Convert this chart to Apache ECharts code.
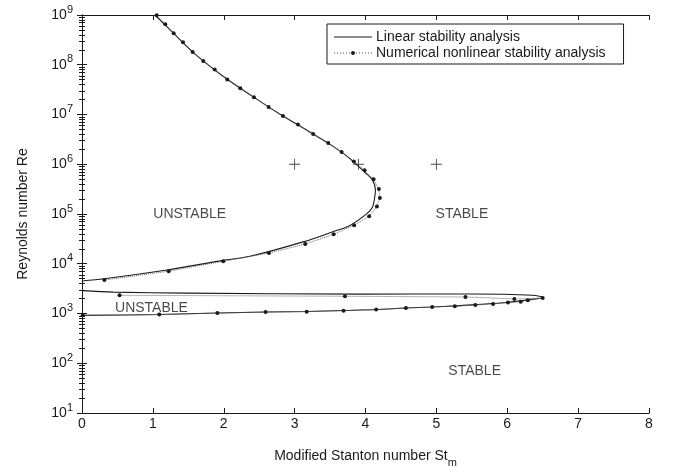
<!DOCTYPE html>
<html>
<head>
<meta charset="utf-8">
<script src="https://cdn.jsdelivr.net/npm/echarts@6/dist/echarts.min.js"></script>
<style>
  html, body { margin: 0; padding: 0; background: #fff; }
  #chart { width: 675px; height: 475px; }
</style>
</head>
<body>
<div id="chart"></div>
<script>
// linear stability boundary, upper branch (St_m, Re)
var linUpperX = [1.03, 1.3, 1.6, 2.0, 2.4, 2.8, 3.2, 3.5, 3.75, 3.99, 4.10, 4.14, 4.13, 4.10, 4.02, 3.78, 3.54, 3.12, 2.37, 1.99, 1.22, 0.31, 0];
var linUpperRe = [1e9, 4.17e8, 1.62e8, 5.75e7, 2.34e7, 1.0e7, 4.57e6, 2.51e6, 1.41e6, 6.9e5, 4.8e5, 3.0e5, 2.19e5, 1.38e5, 1.02e5, 5.9e4, 4.4e4, 2.75e4, 1.41e4, 1.17e4, 7.6e3, 5.0e3, 4.5e3];
// linear stability boundary, lower closed loop
var linLoopX = [0, 0.44, 1.48, 3.92, 5.5, 6.36, 6.51, 6.32, 5.99, 5.54, 5.26, 4.93, 4.56, 4.16, 3.69, 3.17, 2.59, 1.91, 1.09, 0];
var linLoopRe = [2.88e3, 2.69e3, 2.57e3, 2.45e3, 2.47e3, 2.32e3, 2.09e3, 1.9e3, 1.66e3, 1.51e3, 1.42e3, 1.35e3, 1.29e3, 1.2e3, 1.15e3, 1.1e3, 1.07e3, 1.02e3, 955, 915];
// numerical nonlinear analysis, upper branch
var numUpperX = [1.054, 1.175, 1.293, 1.425, 1.561, 1.711, 1.872, 2.049, 2.233, 2.426, 2.633, 2.835, 3.047, 3.262, 3.474, 3.663, 3.836, 3.987, 4.114, 4.189, 4.203, 4.161, 4.052, 3.840, 3.550, 3.150, 2.638, 1.993, 1.223, 0.315];
var numUpperRe = [9.86e8, 6.5e8, 4.28e8, 2.82e8, 1.8e8, 1.19e8, 8.0e7, 5.04e7, 3.37e7, 2.22e7, 1.42e7, 9.3e6, 6.3e6, 4.07e6, 2.67e6, 1.76e6, 1.13e6, 7.55e5, 4.98e5, 3.18e5, 2.1e5, 1.41e5, 9.0e4, 5.93e4, 3.91e4, 2.49e4, 1.64e4, 1.12e4, 7.1e3, 4.7e3];
// numerical nonlinear analysis, lower loop
var numLoopX = [0.53, 3.71, 5.41, 6.10, 6.50, 6.29, 6.19, 6.01, 5.80, 5.55, 5.26, 4.94, 4.57, 4.15, 3.69, 3.17, 2.59, 1.91, 1.09, 0.01];
var numLoopRe = [2.32e3, 2.22e3, 2.15e3, 1.96e3, 2.04e3, 1.84e3, 1.73e3, 1.66e3, 1.55e3, 1.48e3, 1.40e3, 1.35e3, 1.29e3, 1.2e3, 1.14e3, 1.09e3, 1.07e3, 1.02e3, 950, 920];
// "+" test points
var crossX = [3, 3.9, 5];
var crossRe = [1e6, 1e6, 1e6];
// region labels
var regionText = ['UNSTABLE', 'STABLE', 'UNSTABLE', 'STABLE'];
var regionX = [1.52, 5.36, 0.98, 5.54];
var regionRe = [1e5, 1e5, 1.3e3, 69];

function pairs(xs, ys) {
  return xs.map(function (x, i) { return [x, ys[i]]; });
}

var chart = echarts.init(document.getElementById('chart'));
var font = 'Liberation Sans, Arial, sans-serif';
var ink = '#1a1a1a';

var expLabel = function (v) {
  var e = Math.round(Math.log(v) / Math.LN10);
  return '{b|10}{s|' + e + '}';
};

// legend icon: dotted line with a small dot in the middle
var dottedIcon = 'path://M0,1.6h0.8v0.8h-0.8zM3,1.6h0.8v0.8h-0.8zM6,1.6h0.8v0.8h-0.8zM9,1.6h0.8v0.8h-0.8z' +
  'M12,1.6h0.8v0.8h-0.8zM15,1.6h0.8v0.8h-0.8zM17,2a2,2 0 1,0 4,0a2,2 0 1,0 -4,0z' +
  'M22.2,1.6h0.8v0.8h-0.8zM25.2,1.6h0.8v0.8h-0.8zM28.2,1.6h0.8v0.8h-0.8zM31.2,1.6h0.8v0.8h-0.8zM34.2,1.6h0.8v0.8h-0.8zM37.2,1.6h0.8v0.8h-0.8z';

var option = {
  backgroundColor: '#fff',
  animation: false,
  textStyle: { fontFamily: font },
  grid: { left: 82, right: 26, top: 15, bottom: 62 },
  legend: {
    left: 327,
    top: 24,
    orient: 'vertical',
    padding: [6, 18, 4, 7],
    itemGap: 2,
    itemWidth: 38,
    itemHeight: 14,
    borderColor: ink,
    borderWidth: 1,
    backgroundColor: '#fff',
    textStyle: { fontSize: 14, color: ink, fontFamily: font, padding: [0, 0, 0, -1] },
    data: [
      { name: 'Linear stability analysis', icon: 'path://M0,0H38V1H0Z' },
      { name: 'Numerical nonlinear stability analysis', icon: dottedIcon }
    ]
  },
  xAxis: [
    {
      type: 'value', min: 0, max: 8, interval: 1,
      axisLine: { lineStyle: { color: ink, width: 1 } },
      axisTick: { inside: true, length: 5, lineStyle: { color: ink } },
      axisLabel: { fontSize: 14, color: ink, margin: 4, fontFamily: font },
      splitLine: { show: false },
      name: '{a|Modified Stanton number St}{m|m}',
      nameLocation: 'middle',
      nameGap: 32,
      nameTextStyle: {
        rich: {
          a: { fontSize: 14, color: ink, fontFamily: font },
          m: { fontSize: 11, color: ink, fontFamily: font, padding: [12, 0, 0, 0] }
        }
      }
    },
    {
      type: 'value', min: 0, max: 8, interval: 1, position: 'top',
      axisLine: { lineStyle: { color: ink, width: 1 } },
      axisTick: { inside: true, length: 5, lineStyle: { color: ink } },
      axisLabel: { show: false },
      splitLine: { show: false }
    }
  ],
  yAxis: [
    {
      type: 'log', logBase: 10, min: 10, max: 1e9,
      axisLine: { lineStyle: { color: ink, width: 1 } },
      axisTick: { inside: true, length: 5, lineStyle: { color: ink } },
      minorTick: { show: true, splitNumber: 9, length: 3, lineStyle: { color: ink } },
      axisLabel: {
        margin: 9,
        formatter: expLabel,
        rich: {
          b: { fontSize: 14, color: ink, fontFamily: font },
          s: { fontSize: 11, color: ink, fontFamily: font, padding: [0, 0, 11, 0] }
        }
      },
      splitLine: { show: false },
      name: 'Reynolds number Re',
      nameLocation: 'middle',
      nameGap: 52,
      nameTextStyle: { fontSize: 14, color: ink, fontFamily: font }
    },
    {
      type: 'log', logBase: 10, min: 10, max: 1e9, position: 'right',
      axisLine: { lineStyle: { color: ink, width: 1 } },
      axisTick: { inside: true, length: 5, lineStyle: { color: ink } },
      minorTick: { show: true, splitNumber: 9, length: 3, lineStyle: { color: ink } },
      axisLabel: { show: false },
      splitLine: { show: false }
    }
  ],
  series: [
    {
      name: 'Linear stability analysis', type: 'line',
      data: pairs(linUpperX, linUpperRe),
      smooth: 0.3, showSymbol: false, symbol: 'none',
      lineStyle: { color: ink, width: 1.1 },
      itemStyle: { color: ink },
      z: 3
    },
    {
      name: 'Linear stability analysis', type: 'line',
      data: pairs(linLoopX, linLoopRe),
      smooth: 0.3, showSymbol: false, symbol: 'none',
      lineStyle: { color: ink, width: 1.1 },
      itemStyle: { color: ink },
      z: 3
    },
    {
      name: 'Numerical nonlinear stability analysis', type: 'line',
      data: pairs(numUpperX, numUpperRe),
      symbol: 'circle', symbolSize: 4,
      lineStyle: { color: '#666', width: 1, type: 'dotted' },
      itemStyle: { color: ink },
      z: 4
    },
    {
      name: 'Numerical nonlinear stability analysis', type: 'line',
      data: pairs(numLoopX, numLoopRe),
      symbol: 'circle', symbolSize: 4,
      lineStyle: { color: '#666', width: 1, type: 'dotted' },
      itemStyle: { color: ink },
      z: 4
    },
    {
      type: 'scatter',
      data: pairs(crossX, crossRe),
      symbol: 'path://M0,4.6H10V5.4H0ZM4.6,0H5.4V10H4.6Z',
      symbolSize: 11,
      itemStyle: { color: ink },
      z: 5
    },
    {
      type: 'scatter',
      data: regionText.map(function (t, i) { return { name: t, value: [regionX[i], regionRe[i]] }; }),
      symbolSize: 0,
      label: {
        show: true, position: 'inside', formatter: '{b}',
        fontSize: 14, color: ink, fontFamily: font
      },
      z: 5
    }
  ]
};

chart.setOption(option);
</script>
</body>
</html>
